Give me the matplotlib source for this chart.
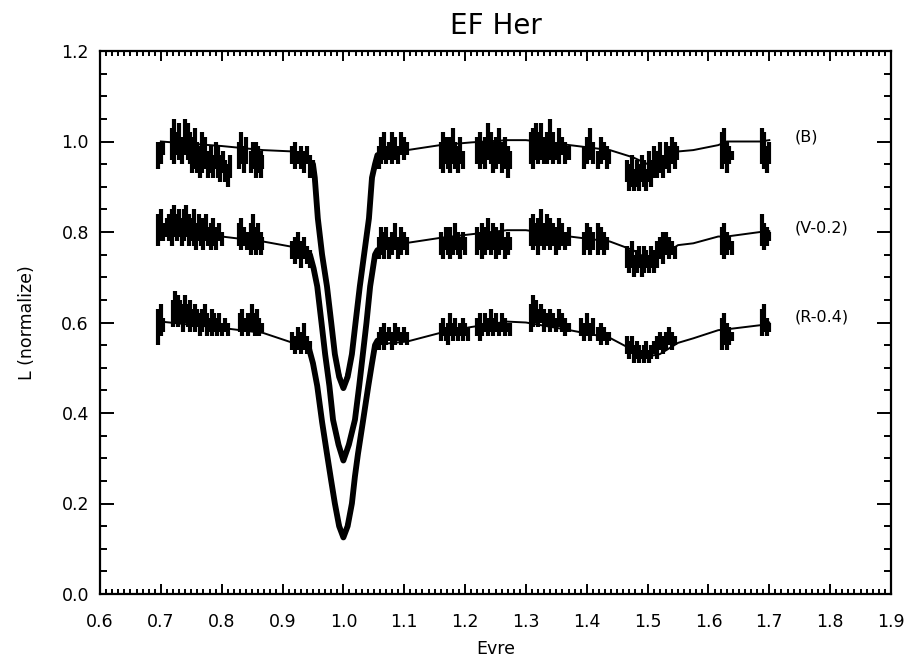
import matplotlib
matplotlib.use("Agg")
import matplotlib.pyplot as plt
from matplotlib.ticker import MultipleLocator

# ---------------- data ----------------
x_ticks = [0.6, 0.7, 0.8, 0.9, 1.0, 1.1, 1.2, 1.3, 1.4, 1.5, 1.6, 1.7, 1.8, 1.9]
x_tick_labels = ["0.6", "0.7", "0.8", "0.9", "1.0", "1.1", "1.2", "1.3", "1.4",
                 "1.5", "1.6", "1.7", "1.8", "1.9"]
y_ticks = [0.0, 0.2, 0.4, 0.6, 0.8, 1.0, 1.2]
y_tick_labels = ["0.0", "0.2", "0.4", "0.6", "0.8", "1.0", "1.2"]

band_labels = ["(B)", "(V-0.2)", "(R-0.4)"]
band_label_y = [1.01, 0.809, 0.612]

# observed points outside eclipse: (phase, low, high) of each vertical streak
B_obs = [
    (0.696, 0.94, 1.00), (0.700, 0.95, 1.00), (0.704, 0.97, 1.00),
    (0.718, 0.96, 1.03), (0.722, 0.95, 1.05), (0.726, 0.97, 1.02), (0.730, 0.96, 1.04), (0.734, 0.95, 1.01),
    (0.740, 0.97, 1.05), (0.744, 0.96, 1.04), (0.748, 0.95, 1.02), (0.752, 0.93, 1.01), (0.756, 0.94, 1.03),
    (0.760, 0.93, 1.00), (0.764, 0.92, 0.99), (0.768, 0.93, 1.02), (0.772, 0.94, 1.01),
    (0.778, 0.92, 0.98), (0.782, 0.93, 0.99), (0.786, 0.92, 0.97), (0.790, 0.94, 1.00), (0.794, 0.92, 0.99),
    (0.798, 0.91, 0.97), (0.802, 0.93, 0.98), (0.806, 0.91, 0.96), (0.810, 0.90, 0.95), (0.813, 0.92, 0.97),
    (0.828, 0.94, 1.00), (0.832, 0.95, 1.02), (0.836, 0.93, 0.99), (0.840, 0.95, 1.01), (0.848, 0.93, 0.98),
    (0.852, 0.94, 1.00), (0.856, 0.92, 1.00), (0.860, 0.93, 0.99), (0.864, 0.92, 0.98), (0.867, 0.94, 0.97),
    (0.916, 0.95, 0.99), (0.920, 0.94, 1.00), (0.925, 0.95, 0.98), (0.930, 0.94, 0.99), (0.935, 0.93, 0.98),
    (0.940, 0.95, 0.99), (0.945, 0.92, 0.97), (0.950, 0.93, 0.96),
    (1.058, 0.94, 0.99), (1.062, 0.95, 1.01), (1.066, 0.96, 1.02), (1.070, 0.95, 0.99), (1.075, 0.96, 1.00),
    (1.080, 0.95, 1.02), (1.085, 0.96, 1.01), (1.090, 0.95, 0.99), (1.095, 0.97, 1.02), (1.100, 0.96, 1.01),
    (1.104, 0.97, 1.00),
    (1.160, 0.94, 1.00), (1.164, 0.93, 1.02), (1.168, 0.95, 1.01), (1.172, 0.94, 0.99), (1.176, 0.93, 1.01),
    (1.180, 0.95, 1.03), (1.184, 0.94, 1.00), (1.188, 0.93, 0.99), (1.192, 0.95, 1.01), (1.196, 0.94, 0.98),
    (1.220, 0.95, 1.01), (1.224, 0.94, 1.02), (1.228, 0.95, 1.00), (1.232, 0.94, 1.01), (1.238, 0.96, 1.04),
    (1.242, 0.95, 1.02), (1.246, 0.93, 1.00), (1.250, 0.94, 1.01), (1.255, 0.95, 1.03), (1.260, 0.93, 1.00),
    (1.265, 0.94, 1.01), (1.270, 0.92, 0.99), (1.274, 0.94, 0.98),
    (1.308, 0.95, 1.02), (1.312, 0.94, 1.03), (1.316, 0.96, 1.04), (1.320, 0.95, 1.02), (1.325, 0.96, 1.04),
    (1.330, 0.95, 1.01), (1.335, 0.95, 1.02), (1.340, 0.96, 1.05), (1.345, 0.95, 1.02), (1.350, 0.96, 1.00),
    (1.355, 0.95, 1.03), (1.360, 0.97, 1.01), (1.365, 0.95, 1.00), (1.370, 0.96, 0.99),
    (1.395, 0.94, 0.99), (1.400, 0.95, 1.01), (1.405, 0.96, 1.03), (1.410, 0.95, 1.00), (1.418, 0.94, 0.98),
    (1.424, 0.95, 1.01), (1.428, 0.96, 1.00), (1.433, 0.94, 0.99), (1.437, 0.95, 0.98),
    (1.466, 0.91, 0.96), (1.470, 0.89, 0.95), (1.474, 0.90, 0.97), (1.478, 0.89, 0.94), (1.482, 0.90, 0.96),
    (1.486, 0.89, 0.95), (1.490, 0.91, 0.97), (1.494, 0.90, 0.96), (1.498, 0.89, 0.94), (1.502, 0.91, 0.98),
    (1.506, 0.90, 0.96), (1.510, 0.92, 0.99), (1.515, 0.92, 0.98), (1.520, 0.93, 1.00), (1.525, 0.92, 0.97),
    (1.530, 0.94, 1.00), (1.535, 0.93, 0.99), (1.540, 0.95, 1.01), (1.545, 0.94, 1.00), (1.549, 0.96, 0.99),
    (1.622, 0.94, 1.02), (1.626, 0.95, 1.03), (1.630, 0.93, 1.00), (1.634, 0.95, 0.99), (1.638, 0.96, 0.98),
    (1.688, 0.95, 1.03), (1.692, 0.94, 1.02), (1.696, 0.93, 0.99), (1.699, 0.95, 1.00),
]

V_obs = [
    (0.696, 0.77, 0.84), (0.700, 0.78, 0.85), (0.704, 0.78, 0.82),
    (0.710, 0.79, 0.83), (0.714, 0.78, 0.84), (0.718, 0.77, 0.85), (0.722, 0.79, 0.86), (0.726, 0.78, 0.84),
    (0.730, 0.79, 0.85), (0.734, 0.77, 0.83), (0.738, 0.78, 0.85), (0.742, 0.79, 0.86), (0.746, 0.77, 0.84),
    (0.750, 0.78, 0.83), (0.754, 0.77, 0.85), (0.758, 0.76, 0.82), (0.762, 0.78, 0.84), (0.766, 0.77, 0.82),
    (0.770, 0.76, 0.83), (0.774, 0.78, 0.84), (0.778, 0.77, 0.81), (0.782, 0.76, 0.82), (0.786, 0.77, 0.83),
    (0.790, 0.76, 0.81), (0.795, 0.78, 0.82), (0.800, 0.77, 0.80),
    (0.828, 0.77, 0.82), (0.832, 0.76, 0.83), (0.836, 0.77, 0.81), (0.842, 0.76, 0.80), (0.848, 0.75, 0.82),
    (0.852, 0.76, 0.84), (0.856, 0.75, 0.81), (0.860, 0.76, 0.82), (0.864, 0.75, 0.80), (0.867, 0.76, 0.79),
    (0.916, 0.74, 0.78), (0.920, 0.73, 0.79), (0.925, 0.74, 0.80), (0.930, 0.72, 0.78), (0.935, 0.74, 0.79),
    (0.940, 0.73, 0.77), (0.945, 0.72, 0.76),
    (1.058, 0.74, 0.79), (1.062, 0.75, 0.81), (1.066, 0.74, 0.80), (1.070, 0.76, 0.81), (1.075, 0.74, 0.79),
    (1.080, 0.75, 0.80), (1.085, 0.76, 0.82), (1.090, 0.74, 0.79), (1.095, 0.75, 0.81), (1.100, 0.76, 0.80),
    (1.104, 0.75, 0.79),
    (1.160, 0.75, 0.80), (1.164, 0.74, 0.79), (1.168, 0.76, 0.81), (1.172, 0.75, 0.80), (1.176, 0.74, 0.81),
    (1.180, 0.75, 0.79), (1.184, 0.76, 0.82), (1.188, 0.75, 0.80), (1.192, 0.74, 0.79), (1.196, 0.76, 0.80),
    (1.200, 0.75, 0.79),
    (1.220, 0.75, 0.81), (1.224, 0.76, 0.80), (1.228, 0.74, 0.82), (1.232, 0.75, 0.81), (1.238, 0.76, 0.83),
    (1.242, 0.75, 0.80), (1.246, 0.76, 0.82), (1.250, 0.74, 0.81), (1.255, 0.75, 0.80), (1.260, 0.76, 0.82),
    (1.265, 0.74, 0.79), (1.270, 0.75, 0.80), (1.274, 0.76, 0.79),
    (1.308, 0.77, 0.83), (1.312, 0.76, 0.84), (1.316, 0.77, 0.82), (1.320, 0.75, 0.83), (1.325, 0.77, 0.85),
    (1.330, 0.76, 0.82), (1.335, 0.77, 0.84), (1.340, 0.76, 0.83), (1.345, 0.77, 0.82), (1.350, 0.75, 0.81),
    (1.355, 0.76, 0.83), (1.360, 0.77, 0.82), (1.365, 0.76, 0.80), (1.370, 0.77, 0.81),
    (1.395, 0.75, 0.80), (1.400, 0.76, 0.82), (1.405, 0.75, 0.81), (1.410, 0.76, 0.80), (1.418, 0.75, 0.82),
    (1.424, 0.76, 0.81), (1.428, 0.75, 0.80), (1.433, 0.76, 0.79),
    (1.466, 0.72, 0.77), (1.470, 0.71, 0.76), (1.474, 0.72, 0.78), (1.478, 0.70, 0.75), (1.482, 0.71, 0.76),
    (1.486, 0.72, 0.77), (1.490, 0.70, 0.75), (1.494, 0.71, 0.77), (1.498, 0.72, 0.76), (1.502, 0.71, 0.75),
    (1.506, 0.72, 0.77), (1.510, 0.71, 0.76), (1.515, 0.72, 0.78), (1.520, 0.74, 0.79), (1.525, 0.73, 0.80),
    (1.530, 0.75, 0.80), (1.535, 0.74, 0.79), (1.540, 0.75, 0.78), (1.545, 0.74, 0.77),
    (1.622, 0.75, 0.81), (1.626, 0.74, 0.82), (1.630, 0.75, 0.80), (1.634, 0.76, 0.79), (1.638, 0.75, 0.78),
    (1.688, 0.77, 0.84), (1.692, 0.76, 0.82), (1.696, 0.77, 0.81), (1.699, 0.78, 0.80),
]

R_obs = [
    (0.696, 0.55, 0.63), (0.700, 0.57, 0.64), (0.704, 0.58, 0.61),
    (0.720, 0.59, 0.65), (0.724, 0.60, 0.67), (0.728, 0.59, 0.66), (0.732, 0.60, 0.65), (0.736, 0.58, 0.64),
    (0.740, 0.60, 0.66), (0.744, 0.59, 0.64), (0.748, 0.58, 0.65), (0.752, 0.59, 0.63), (0.756, 0.58, 0.64),
    (0.760, 0.59, 0.63), (0.764, 0.57, 0.62), (0.768, 0.58, 0.63), (0.772, 0.59, 0.64), (0.776, 0.57, 0.62),
    (0.780, 0.58, 0.61), (0.784, 0.57, 0.63), (0.788, 0.58, 0.62), (0.792, 0.57, 0.61), (0.796, 0.58, 0.62),
    (0.800, 0.57, 0.60), (0.805, 0.58, 0.61), (0.810, 0.57, 0.60),
    (0.830, 0.58, 0.62), (0.834, 0.57, 0.63), (0.838, 0.58, 0.61), (0.844, 0.57, 0.62), (0.850, 0.58, 0.64),
    (0.854, 0.57, 0.62), (0.858, 0.58, 0.63), (0.862, 0.57, 0.61), (0.866, 0.58, 0.60),
    (0.916, 0.54, 0.58), (0.920, 0.53, 0.57), (0.925, 0.54, 0.59), (0.930, 0.53, 0.58), (0.935, 0.54, 0.60),
    (0.940, 0.53, 0.57), (0.945, 0.54, 0.56),
    (1.058, 0.54, 0.58), (1.062, 0.55, 0.59), (1.066, 0.54, 0.60), (1.070, 0.55, 0.58), (1.075, 0.56, 0.59),
    (1.080, 0.54, 0.58), (1.085, 0.55, 0.60), (1.090, 0.56, 0.59), (1.095, 0.55, 0.58), (1.100, 0.56, 0.59),
    (1.104, 0.55, 0.58),
    (1.160, 0.56, 0.60), (1.164, 0.57, 0.61), (1.168, 0.56, 0.59), (1.172, 0.55, 0.60), (1.176, 0.57, 0.62),
    (1.180, 0.56, 0.60), (1.184, 0.57, 0.61), (1.188, 0.56, 0.59), (1.192, 0.57, 0.60), (1.196, 0.56, 0.61),
    (1.200, 0.57, 0.60), (1.205, 0.56, 0.59),
    (1.220, 0.57, 0.61), (1.224, 0.56, 0.62), (1.228, 0.57, 0.60), (1.232, 0.58, 0.62), (1.238, 0.57, 0.61),
    (1.242, 0.58, 0.63), (1.246, 0.57, 0.61), (1.250, 0.58, 0.62), (1.255, 0.57, 0.60), (1.260, 0.58, 0.62),
    (1.265, 0.57, 0.61), (1.270, 0.58, 0.60), (1.274, 0.57, 0.60),
    (1.308, 0.58, 0.64), (1.312, 0.59, 0.66), (1.316, 0.60, 0.65), (1.320, 0.59, 0.63), (1.325, 0.60, 0.64),
    (1.330, 0.58, 0.63), (1.335, 0.59, 0.62), (1.340, 0.58, 0.63), (1.345, 0.59, 0.62), (1.350, 0.58, 0.61),
    (1.355, 0.59, 0.63), (1.360, 0.58, 0.62), (1.365, 0.57, 0.61), (1.370, 0.58, 0.60),
    (1.390, 0.57, 0.61), (1.395, 0.56, 0.60), (1.400, 0.57, 0.62), (1.405, 0.56, 0.60), (1.410, 0.57, 0.61),
    (1.418, 0.56, 0.59), (1.424, 0.55, 0.60), (1.428, 0.56, 0.59), (1.433, 0.55, 0.58), (1.437, 0.56, 0.58),
    (1.466, 0.53, 0.57), (1.470, 0.52, 0.56), (1.474, 0.53, 0.57), (1.478, 0.51, 0.55), (1.482, 0.52, 0.56),
    (1.486, 0.51, 0.55), (1.490, 0.52, 0.54), (1.494, 0.51, 0.55), (1.498, 0.52, 0.56), (1.502, 0.51, 0.54),
    (1.506, 0.52, 0.55), (1.510, 0.53, 0.56), (1.515, 0.52, 0.57), (1.520, 0.54, 0.58), (1.525, 0.53, 0.57),
    (1.530, 0.54, 0.58), (1.535, 0.55, 0.59), (1.540, 0.54, 0.58), (1.545, 0.55, 0.57),
    (1.622, 0.54, 0.61), (1.626, 0.55, 0.62), (1.630, 0.54, 0.60), (1.634, 0.55, 0.59), (1.638, 0.56, 0.58),
    (1.688, 0.57, 0.63), (1.692, 0.58, 0.64), (1.696, 0.57, 0.61), (1.699, 0.58, 0.60),
]

# observed points through the primary eclipse
B_ecl_phase = [0.950, 0.953, 0.958, 0.965, 0.973, 0.980, 0.986, 0.993, 1.000, 1.007, 1.014, 1.020,
               1.027, 1.035, 1.042, 1.047, 1.052, 1.056]
B_ecl = [0.95, 0.92, 0.83, 0.75, 0.68, 0.60, 0.53, 0.48, 0.455, 0.48, 0.53, 0.60,
         0.68, 0.76, 0.83, 0.92, 0.95, 0.97]
V_ecl_phase = [0.945, 0.951, 0.957, 0.964, 0.970, 0.977, 0.983, 0.992, 1.000, 1.009, 1.019, 1.026,
               1.032, 1.038, 1.044, 1.052, 1.056]
V_ecl = [0.75, 0.72, 0.68, 0.60, 0.53, 0.46, 0.385, 0.33, 0.295, 0.33, 0.385, 0.46,
         0.53, 0.60, 0.68, 0.75, 0.76]
R_ecl_phase = [0.942, 0.950, 0.957, 0.965, 0.973, 0.980, 0.986, 0.993, 1.000, 1.007, 1.014, 1.019,
               1.024, 1.032, 1.041, 1.047, 1.052, 1.056]
R_ecl = [0.55, 0.51, 0.46, 0.38, 0.31, 0.25, 0.20, 0.15, 0.125, 0.15, 0.20, 0.26,
         0.31, 0.38, 0.46, 0.51, 0.55, 0.56]

# model light curves
B_mod_phase = [0.700, 0.750, 0.800, 0.868, 0.917, 0.940, 0.950, 0.958, 0.973, 0.986, 1.000, 1.014,
               1.027, 1.042, 1.050, 1.060, 1.105, 1.159, 1.210, 1.269, 1.300, 1.372, 1.438, 1.476,
               1.500, 1.520, 1.550, 1.575, 1.616, 1.630, 1.685, 1.700]
B_mod = [1.000, 0.995, 0.990, 0.981, 0.978, 0.970, 0.93, 0.83, 0.68, 0.53, 0.46, 0.53,
         0.68, 0.83, 0.93, 0.965, 0.981, 0.992, 0.998, 1.003, 1.003, 0.992, 0.981, 0.965,
         0.950, 0.955, 0.978, 0.981, 0.992, 1.000, 1.000, 1.003]
V_mod_phase = [0.700, 0.750, 0.800, 0.868, 0.917, 0.940, 0.947, 0.957, 0.970, 0.983, 1.000, 1.019,
               1.032, 1.044, 1.052, 1.060, 1.105, 1.159, 1.210, 1.269, 1.300, 1.372, 1.438, 1.476,
               1.500, 1.520, 1.550, 1.575, 1.616, 1.630, 1.685, 1.700]
V_mod = [0.800, 0.795, 0.790, 0.779, 0.767, 0.762, 0.745, 0.68, 0.53, 0.385, 0.30, 0.385,
         0.53, 0.68, 0.75, 0.766, 0.776, 0.787, 0.795, 0.804, 0.804, 0.790, 0.779, 0.760,
         0.740, 0.745, 0.771, 0.775, 0.790, 0.790, 0.800, 0.802]
R_mod_phase = [0.700, 0.750, 0.800, 0.868, 0.917, 0.935, 0.942, 0.957, 0.973, 0.986, 1.000, 1.014,
               1.024, 1.041, 1.052, 1.060, 1.105, 1.159, 1.210, 1.269, 1.300, 1.372, 1.438, 1.476,
               1.500, 1.520, 1.550, 1.575, 1.616, 1.630, 1.685, 1.700]
R_mod = [0.602, 0.595, 0.588, 0.577, 0.555, 0.550, 0.546, 0.458, 0.312, 0.201, 0.126, 0.201,
         0.312, 0.458, 0.546, 0.552, 0.558, 0.577, 0.590, 0.602, 0.600, 0.583, 0.566, 0.539,
         0.525, 0.530, 0.555, 0.565, 0.583, 0.585, 0.594, 0.600]

# ---------------- plot ----------------
plt.rcParams['font.family'] = ['DejaVu Sans']
fig = plt.figure(figsize=(9.12, 6.69), dpi=100)
ax = fig.add_axes([100 / 912, 1 - 594 / 669, 791 / 912, 543 / 669])

for obs in (B_obs, V_obs, R_obs):
    ph = [o[0] for o in obs]
    lo = [o[1] for o in obs]
    hi = [o[2] for o in obs]
    ax.vlines(ph, lo, hi, colors='black', linewidth=3.0)

for ph, val in ((B_ecl_phase, B_ecl), (V_ecl_phase, V_ecl), (R_ecl_phase, R_ecl)):
    ax.plot(ph, val, color='black', linewidth=4.2, solid_capstyle='round')

for ph, val in ((B_mod_phase, B_mod), (V_mod_phase, V_mod), (R_mod_phase, R_mod)):
    ax.plot(ph, val, color='black', linewidth=1.4)

for lab, yv in zip(band_labels, band_label_y):
    ax.text(1.742, yv, lab, fontsize=11.5, ha='left', va='center')

ax.set_xlim(0.6, 1.9)
ax.set_ylim(0.0, 1.2)
ax.set_xticks(x_ticks)
ax.set_xticklabels(x_tick_labels)
ax.set_yticks(y_ticks)
ax.set_yticklabels(y_tick_labels)
ax.xaxis.set_minor_locator(MultipleLocator(0.01))
ax.yaxis.set_minor_locator(MultipleLocator(0.05))
ax.tick_params(which='both', direction='in', top=True, right=True, width=1.4, labelsize=12.5)
ax.tick_params(axis='x', which='major', length=7, pad=14)
ax.tick_params(axis='x', which='minor', length=3.5)
ax.tick_params(axis='y', which='major', length=10, pad=8)
ax.tick_params(axis='y', which='minor', length=5)
for s in ax.spines.values():
    s.set_linewidth(1.6)

ax.set_title("EF Her", fontsize=20, pad=12)
ax.set_xlabel("Evre", fontsize=12.5, labelpad=6)
ax.set_ylabel("L (normalize)", fontsize=12.5, labelpad=18)

fig.savefig("out.png", dpi=100, facecolor='white')
